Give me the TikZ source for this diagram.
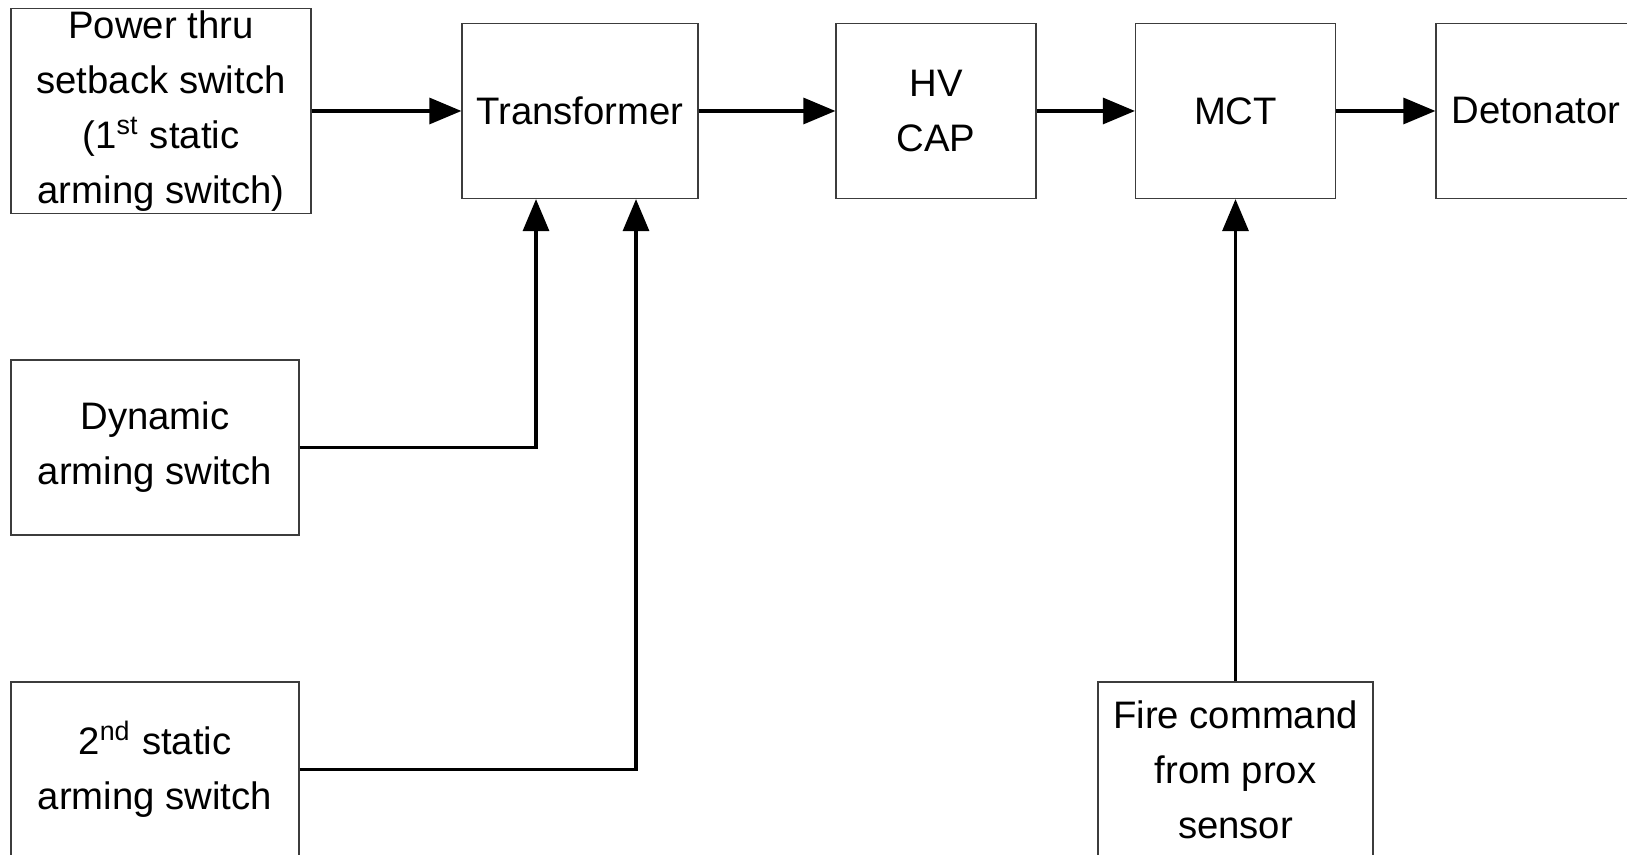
\documentclass[tikz,border=0pt]{standalone}
\usepackage{fontspec}
\setmainfont{Liberation Sans}
\usetikzlibrary{arrows.meta,positioning,calc}
\definecolor{edge}{RGB}{60,60,60}

\begin{document}
\begin{tikzpicture}[x=0.1mm,y=-0.1mm,
    block/.style={draw=edge,line width=0.35pt,inner sep=0pt,align=center,
      minimum height=17.5mm,font=\fontsize{10.9}{15.6}\selectfont},
    flow/.style={line width=0.9pt,-{Triangle[length=3.2mm,width=2.6mm]}}]
  \useasboundingbox (0,0) rectangle (1627,855);
  \clip (0,0) rectangle (1627,855);
  % top row
  \node[block,minimum width=30mm,minimum height=20.5mm] (power) at (161,111) {Power thru\\setback switch\\(1\textsuperscript{st} static\\arming switch)};
  \node[block,minimum width=23.6mm] (trans) at (580,111) {Transformer};
  \node[block,minimum width=20mm] (hvcap) at (936,111) {HV\\CAP};
  \node[block,minimum width=20mm] (mct) at (1235.5,111) {MCT};
  \node[block,minimum width=20mm] (det) at (1536,111) {Detonator};
  % arming inputs
  \node[block,minimum width=28.8mm] (dyn) at (155,447.5) {Dynamic\\arming switch};
  \node[block,minimum width=28.8mm] (stat2) at (155,769.5) {2\textsuperscript{nd} static\\arming switch};
  \node[block,minimum width=27.5mm] (fire) at (1235.5,769.5) {Fire command\\from prox\\sensor};
  % connectors
  \draw[flow] (power) -- (trans);
  \draw[flow] (trans) -- (hvcap);
  \draw[flow] (hvcap) -- (mct);
  \draw[flow] (mct) -- (det);
  \draw[flow] (dyn.east) -| ([xshift=-4.4mm]trans.south);
  \draw[flow] (stat2.east) -| ([xshift=5.6mm]trans.south);
  \draw[flow] (fire) -- (mct);
\end{tikzpicture}
\end{document}
